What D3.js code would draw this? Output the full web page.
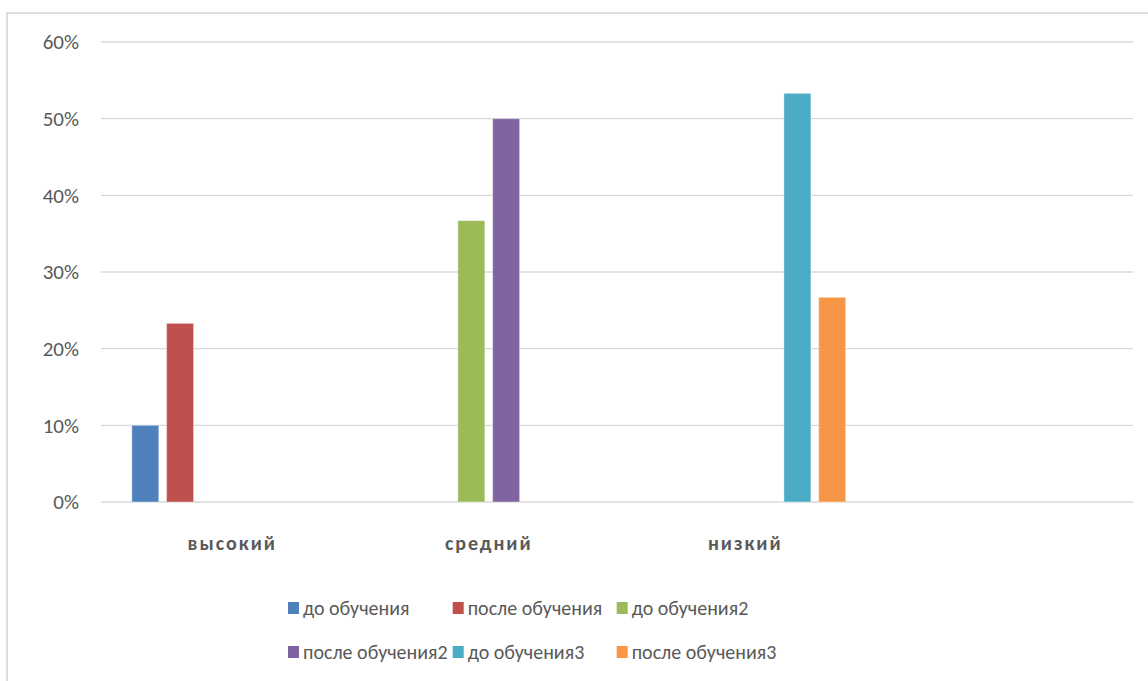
<!DOCTYPE html>
<html>
<head>
<meta charset="utf-8">
<script src="https://cdn.jsdelivr.net/npm/d3@7"></script>
<style>
  body { margin: 0; background: #fff; }
  text { font-family: Carlito, Calibri, Lato, sans-serif; }
</style>
</head>
<body>
<svg id="chart"></svg>
<script>
const svgWidth = 1148;
const svgHeight = 681;

// data
const categories = ['высокий', 'средний', 'низкий', ''];
const seriesNames = ['до обучения', 'после обучения', 'до обучения2',
                     'после обучения2', 'до обучения3', 'после обучения3'];
const seriesColors = ['#4F81BD', '#C0504D', '#9BBB59', '#8064A2', '#4BACC6', '#F79646'];
const doObucheniya   = [0.10, null, null, null];
const posleObucheniya = [0.233, null, null, null];
const doObucheniya2  = [null, 0.367, null, null];
const posleObucheniya2 = [null, 0.50, null, null];
const doObucheniya3  = [null, null, 0.533, null];
const posleObucheniya3 = [null, null, 0.267, null];
const yTicks = [0, 0.1, 0.2, 0.3, 0.4, 0.5, 0.6];

const seriesValues = [doObucheniya, posleObucheniya, doObucheniya2,
                      posleObucheniya2, doObucheniya3, posleObucheniya3];

const svg = d3.select('#chart')
    .attr('width', svgWidth)
    .attr('height', svgHeight);

svg.append('rect')
    .attr('x', 7)
    .attr('y', 13)
    .attr('width', 1300)
    .attr('height', 800)
    .attr('fill', '#fff')
    .attr('stroke', '#d4d4d4')
    .attr('stroke-width', 1.5);

const x = d3.scaleBand()
    .domain(categories.map((d, i) => i))
    .range([104, 1130]);

const xInner = d3.scaleBand()
    .domain(seriesNames)
    .range([0, x.bandwidth()])
    .paddingInner(0.224)
    .paddingOuter(0.8);

const y = d3.scaleLinear()
    .domain([0, 0.6])
    .range([502, 42]);

// gridlines
svg.append('g')
    .selectAll('line')
    .data(yTicks)
    .enter()
    .append('line')
    .attr('x1', 101)
    .attr('x2', 1133)
    .attr('y1', d => y(d))
    .attr('y2', d => y(d))
    .attr('stroke', '#d9d9d9')
    .attr('stroke-width', 1.3);

// y axis labels
const yAxis = svg.append('g')
    .attr('transform', `translate(${79},0)`)
    .call(d3.axisLeft(y).tickValues(yTicks).tickFormat(d3.format('.0%')).tickSize(0).tickPadding(0));
yAxis.select('.domain').remove();
yAxis.selectAll('text')
    .attr('fill', '#595959')
    .style('font-size', '21px')
    .style('font-family', 'Carlito, Calibri, Lato, sans-serif');

// bars
seriesNames.forEach((name, s) => {
    svg.append('g')
        .selectAll('rect')
        .data(seriesValues[s].map((v, i) => ({ i, v })).filter(d => d.v != null))
        .enter()
        .append('rect')
        .attr('x', d => x(d.i) + xInner(name))
        .attr('y', d => y(d.v))
        .attr('width', xInner.bandwidth())
        .attr('height', d => y(0) - y(d.v))
        .attr('fill', seriesColors[s])
        .attr('stroke', '#ffffff')
        .attr('stroke-opacity', 0.4)
        .attr('stroke-width', 1);
});

// category labels
svg.append('g')
    .selectAll('text')
    .data(categories)
    .enter()
    .append('text')
    .text(d => d)
    .attr('x', (d, i) => x(i) + x.bandwidth() / 2)
    .attr('y', 550)
    .attr('text-anchor', 'middle')
    .attr('fill', '#595959')
    .style('font-size', '20px')
    .style('font-weight', 'bold')
    .style('letter-spacing', '2px');

// legend
const legendCols = [288, 452.7, 616.7];
const legendRows = [608, 652];
const legend = svg.append('g')
    .selectAll('g')
    .data(seriesNames)
    .enter()
    .append('g')
    .attr('transform', (d, i) => `translate(${legendCols[i % 3]},${legendRows[Math.floor(i / 3)]})`);

legend.append('rect')
    .attr('x', 0)
    .attr('y', -6)
    .attr('width', 11)
    .attr('height', 12)
    .attr('fill', (d, i) => seriesColors[i]);

legend.append('text')
    .text(d => d)
    .attr('x', 15)
    .attr('y', 6.5)
    .attr('fill', '#595959')
    .style('font-size', '20px');
</script>
</body>
</html>
